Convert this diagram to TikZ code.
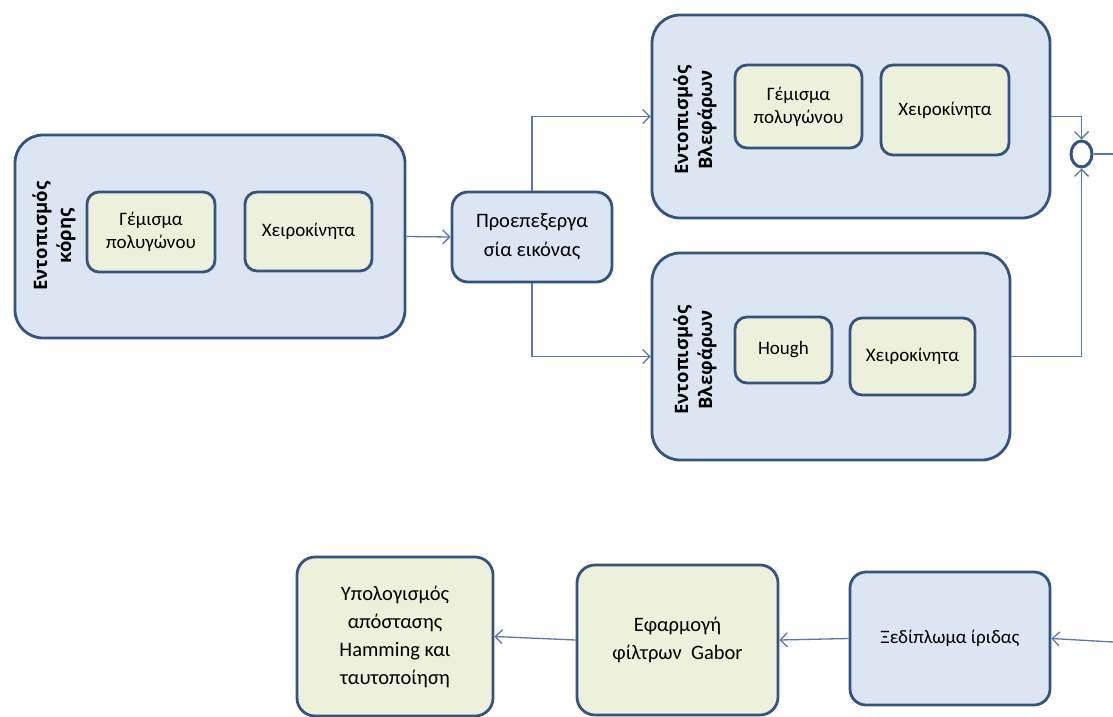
\documentclass[tikz,border=0pt]{standalone}
\usepackage{fontspec}
\setmainfont{Carlito}
\newfontfamily\labfont{Open Sans}
\usetikzlibrary{arrows.meta,shapes.geometric}
\definecolor{bord}{HTML}{34547F}
\definecolor{conn}{HTML}{5A78A6}
\definecolor{bluefill}{HTML}{DCE6F2}
\definecolor{greenfill}{HTML}{EDF1DC}
\tikzset{
  bigbox/.style={draw=bord, line width=2.8pt, fill=bluefill, rounded corners=28pt, inner sep=0pt},
  smallbox/.style={draw=bord, line width=2.8pt, fill=greenfill, rounded corners=12pt, inner sep=0pt, align=center, font=\fontsize{19}{23}\selectfont, text=black},
  bluebox/.style={draw=bord, line width=2.8pt, fill=bluefill, rounded corners=16pt, inner sep=0pt, align=center, font=\fontsize{19}{27}\selectfont, text=black},
  greenbox/.style={draw=bord, line width=2.8pt, fill=greenfill, rounded corners=18pt, inner sep=0pt, align=center, font=\fontsize{20.5}{28}\selectfont, text=black},
  rotlabel/.style={rotate=90, align=center, font=\labfont\fontsize{18.5}{24}\selectfont\bfseries, text=black},
  conline/.style={draw=conn, line width=1.3pt},
  arr/.style={conline, -{Straight Barb[length=7pt,width=14pt,line width=1.3pt]}}
}
\begin{document}
\begin{tikzpicture}[x=1pt,y=-1pt]
\useasboundingbox (0,0) rectangle (1113,717);
% pupil detection
\node[bigbox, minimum width=390pt, minimum height=203pt] (pupil) at (210,236.5) {};
\node[rotlabel] (pupillab) at (54,236) {Εντοπισμός\\κόρης};
\node[smallbox, minimum width=128pt, minimum height=80pt] (pfill) at (151,232) {Γέμισμα\\πολυγώνου};
\node[smallbox, minimum width=127pt, minimum height=79pt] (pman) at (308.5,231.5) {Χειροκίνητα};
% preprocessing
\node[bluebox, minimum width=160pt, minimum height=90pt, font=\fontsize{20.5}{29}\selectfont] (pre) at (532,237) {Προεπεξεργα\\σία εικόνας};
% eyelid A
\node[bigbox, minimum width=398pt, minimum height=203pt] (lidA) at (851,116.5) {};
\node[rotlabel] (lidAlab) at (695,120) {Εντοπισμός\\Βλεφάρων};
\node[smallbox, minimum width=127pt, minimum height=83pt] (afill) at (798.5,106.5) {Γέμισμα\\πολυγώνου};
\node[smallbox, minimum width=128pt, minimum height=90pt] (aman) at (945,110) {Χειροκίνητα};
% eyelid B
\node[bigbox, minimum width=358pt, minimum height=207pt] (lidB) at (831,356.5) {};
\node[rotlabel] (lidBlab) at (695,360) {Εντοπισμός\\Βλεφάρων};
\node[smallbox, minimum width=97pt, minimum height=66pt] (hough) at (783.5,350) {Hough};
\node[smallbox, minimum width=125pt, minimum height=77pt] (bman) at (912.5,356.5) {Χειροκίνητα};
% merge circle
\node[draw=bord, line width=3pt, fill=white, ellipse, minimum width=21pt, minimum height=26pt, inner sep=0pt] (merge) at (1081.5,154) {};
\coordinate (outR) at (1113,154);
\coordinate (inR) at (1113,642);
% bottom row
\node[bluebox, minimum width=200pt, minimum height=133pt] (unfold) at (950,638.5) {Ξεδίπλωμα ίριδας};
\node[greenbox, minimum width=201pt, minimum height=150pt] (gabor) at (677.5,640) {Εφαρμογή\\φίλτρων\ \ Gabor};
\node[greenbox, minimum width=196pt, minimum height=159pt] (hamming) at (395,636.5) {Υπολογισμός\\απόστασης\\Hamming και\\ταυτοποίηση};
% connectors
\draw[arr] (pupil.east) -- (pre.west);
\draw[arr] (pre.north) |- (lidA.west);
\draw[arr] (pre.south) |- (lidB.west);
\draw[arr] (lidA.east) -| (merge.north);
\draw[arr] (lidB.east) -| (merge.south);
\draw[conline] (merge.east) -- (outR);
\draw[arr] (inR) -- (unfold.east);
\draw[arr] (unfold.west) -- (gabor.east);
\draw[arr] (gabor.west) -- (hamming.east);
\end{tikzpicture}
\end{document}
